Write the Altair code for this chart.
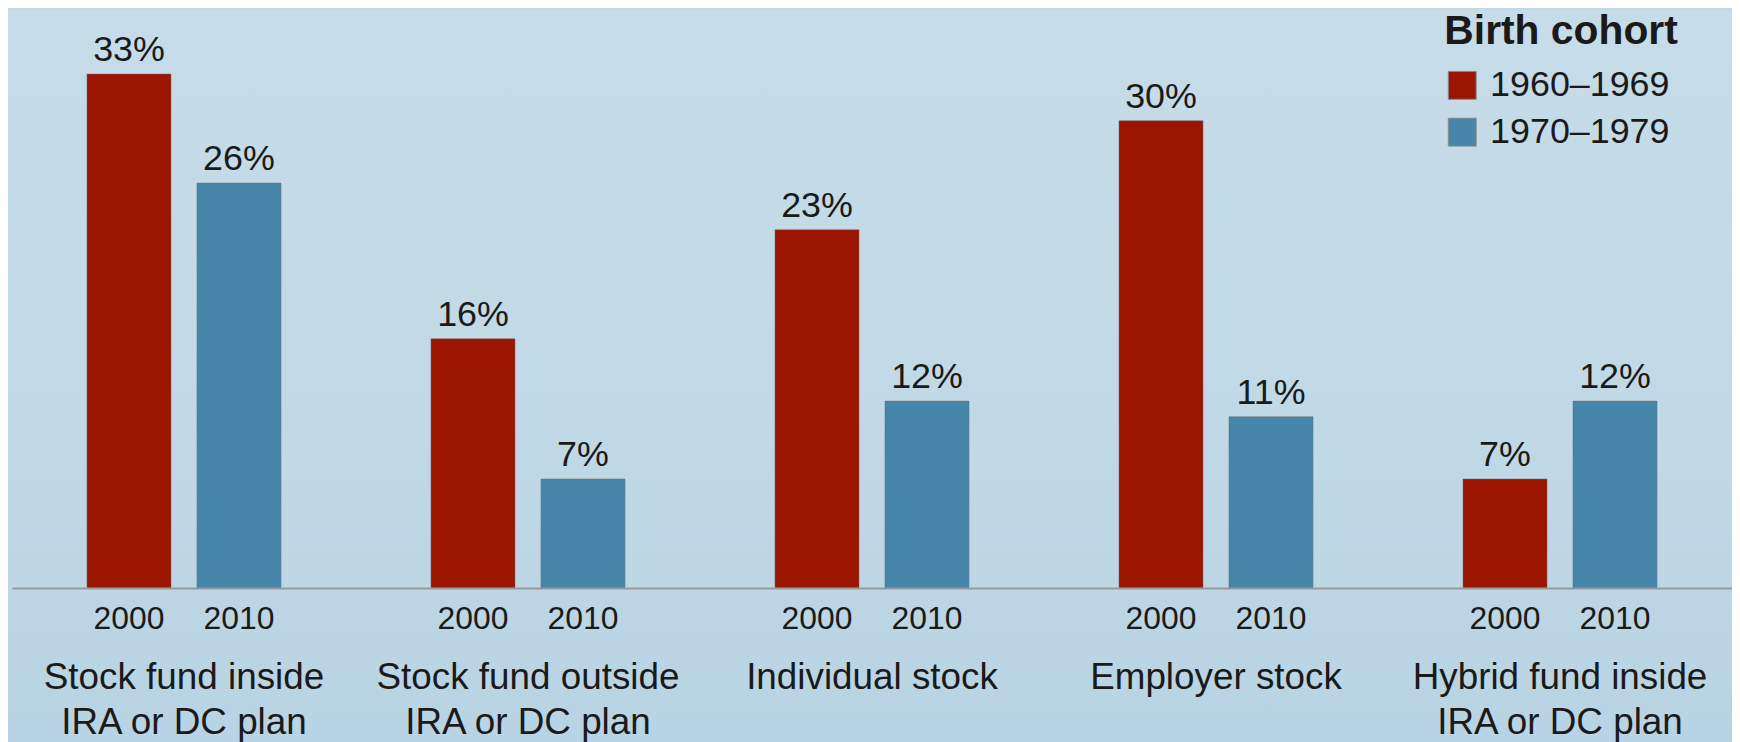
import altair as alt
import pandas as pd

FONT = "Liberation Sans"

categories = [
    "Stock fund inside\nIRA or DC plan",
    "Stock fund outside\nIRA or DC plan",
    "Individual stock",
    "Employer stock",
    "Hybrid fund inside\nIRA or DC plan",
]
years = ["2000", "2010"]
cohorts = ["1960–1969", "1970–1979"]
share_2000 = [33, 16, 23, 30, 7]
share_2010 = [26, 7, 12, 11, 12]
colors = ["#9c1500", "#4686ab"]

rows = []
for i, c in enumerate(categories):
    rows.append({"category": c, "year": years[0], "cohort": cohorts[0], "value": share_2000[i]})
    rows.append({"category": c, "year": years[1], "cohort": cohorts[1], "value": share_2010[i]})
df = pd.DataFrame(rows)
df["label"] = df["value"].astype(str) + "%"

W, H = 1728, 569

# slide-like background wash
bg = alt.Chart(pd.DataFrame({"k": [0]})).mark_rect(
    fill=alt.LinearGradient(
        gradient="linear",
        stops=[
            alt.GradientStop(color="#c6dce8", offset=0),
            alt.GradientStop(color="#c1d9e6", offset=0.55),
            alt.GradientStop(color="#b8d3e3", offset=1),
        ],
        x1=0, x2=0, y1=0, y2=1,
    ),
).encode(
    x=alt.value(-4), x2=alt.value(W), y=alt.value(-12), y2=alt.value(730)
)

base = alt.Chart(df).encode(
    x=alt.X(
        "category:N",
        sort=categories,
        scale=alt.Scale(paddingInner=0.436, paddingOuter=0.218),
        axis=alt.Axis(
            title=None,
            labelExpr="split(datum.label, '\\n')",
            labelFontSize=37,
            labelLineHeight=45,
            labelPadding=72,
            labelColor="#1a1a1a",
            labelFont=FONT,
            labelAngle=0,
            labelLimit=0,
            ticks=False,
            tickSize=0,
            domainColor="#9a9a9a",
            domainWidth=2,
            grid=False,
            zindex=1,
        ),
    ),
    xOffset=alt.XOffset("year:N", sort=years, scale=alt.Scale(paddingInner=0.236, paddingOuter=0)),
)

bars = base.mark_bar(stroke="#6f6f6f", strokeWidth=1, strokeOpacity=0.5).encode(
    y=alt.Y("value:Q", scale=alt.Scale(domain=[0, 36.36], nice=False, zero=True), axis=None),
    color=alt.Color(
        "cohort:N",
        scale=alt.Scale(domain=cohorts, range=colors),
        legend=alt.Legend(
            title="Birth cohort",
            orient="none",
            legendX=1439,
            legendY=-10,
            titleFontSize=41,
            titleFont=FONT,
            titleFontWeight="bold",
            titleColor="#1a1a1a",
            titlePadding=15,
            titleLimit=0,
            labelFontSize=36,
            labelFont=FONT,
            labelColor="#1a1a1a",
            labelOffset=10,
            labelLimit=0,
            symbolType="square",
            symbolSize=784,
            symbolStrokeWidth=1,
            symbolStrokeColor="#888888",
            symbolOpacity=1,
            rowPadding=11,
            padding=0,
            zindex=1,
        ),
    ),
)

value_labels = base.mark_text(
    fontSize=36, font=FONT, color="#1a1a1a", baseline="alphabetic", dy=-13
).encode(y=alt.Y("value:Q"), text="label:N")

year_labels = base.mark_text(
    fontSize=32, font=FONT, color="#1a1a1a", baseline="alphabetic", dy=41
).encode(y=alt.value(H), text="year:N")

chart = (
    alt.layer(bg, bars, value_labels, year_labels)
    .properties(
        width=W,
        height=H,
        padding={"left": 4, "top": 12, "right": 0, "bottom": 161},
        autosize=alt.AutoSizeParams(type="none"),
        background="#c1d9e6",
    )
    .configure_view(stroke=None)
)

chart.save("out.html", embed_options={"renderer": "svg", "actions": False})
